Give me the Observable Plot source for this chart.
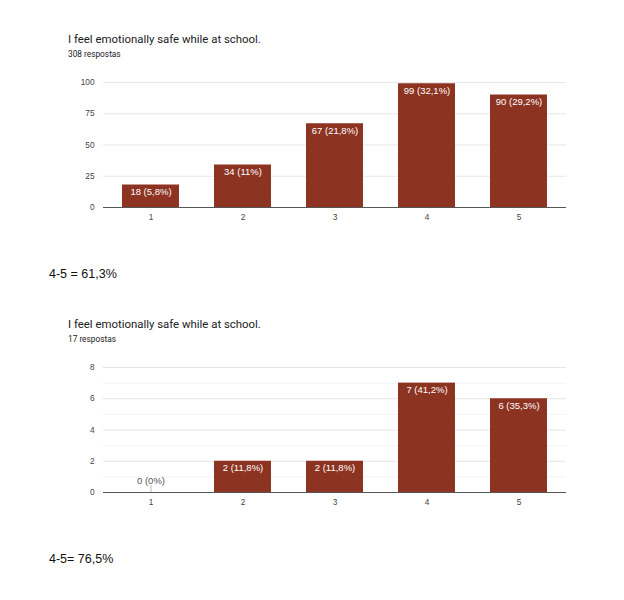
<!DOCTYPE html>
<html>
<head>
<meta charset="utf-8">
<script src="https://cdn.jsdelivr.net/npm/d3@7"></script>
<script src="https://cdn.jsdelivr.net/npm/@observablehq/plot@0.6"></script>
<style>
  html, body { margin: 0; padding: 0; background: #fff; }
  #page { position: relative; width: 624px; height: 600px; overflow: hidden; font-family: Roboto, "Liberation Sans", Arial, sans-serif; }
  .abs { position: absolute; white-space: nowrap; }
  .title { font-size: 11.4px; line-height: 13px; color: #202124; }
  .sub { font-size: 8.3px; line-height: 8px; color: #202124; }
  .note { font-family: "Liberation Sans", Arial, sans-serif; font-size: 12.5px; line-height: 13px; color: #111; }
</style>
</head>
<body>
<div id="page">
  <div class="abs title" style="left:68px;top:33px;">I feel emotionally safe while at school.</div>
  <div class="abs sub" style="left:68px;top:50px;">308 respostas</div>
  <div class="abs" id="chart1" style="left:0;top:70px;"></div>
  <div class="abs note" style="left:49px;top:268px;">4-5 = 61,3%</div>

  <div class="abs title" style="left:68px;top:318px;">I feel emotionally safe while at school.</div>
  <div class="abs sub" style="left:68px;top:335px;">17 respostas</div>
  <div class="abs" id="chart2" style="left:0;top:355px;"></div>
  <div class="abs note" style="left:49px;top:553px;">4-5= 76,5%</div>
</div>
<script>
const categories = ["1", "2", "3", "4", "5"];
const counts1 = [18, 34, 67, 99, 90];
const pct1 = ["5,8%", "11%", "21,8%", "32,1%", "29,2%"];
const counts2 = [0, 2, 2, 7, 6];
const pct2 = ["0%", "11,8%", "11,8%", "41,2%", "35,3%"];
const yTicks1 = [0, 25, 50, 75, 100];
const yTicks2 = [0, 2, 4, 6, 8];
const minorTicks2 = [1, 3, 5, 7];

const barColor = "#8d3322";

function makeChart(counts, pcts, yTicks, minorTicks, yMax) {
  const data = categories.map((c, i) => ({cat: c, v: counts[i], label: `${counts[i]} (${pcts[i]})`}));
  const nonZero = data.filter(d => d.v > 0);
  const zero = data.filter(d => d.v === 0);
  return Plot.plot({
    width: 624,
    height: 162,
    marginLeft: 103,
    marginRight: 58,
    marginTop: 12,
    marginBottom: 25,
    style: {fontFamily: "'Liberation Sans', Arial, sans-serif", fontSize: "8.3px", color: "#444", background: "#fff"},
    x: {domain: categories, paddingInner: 0.385, paddingOuter: 0.1925, label: null, tickSize: 0, tickPadding: 7},
    y: {domain: [0, yMax], ticks: yTicks, label: null, tickSize: 0, tickPadding: 9},
    marks: [
      Plot.ruleY(minorTicks, {stroke: "#f3f3f3", strokeWidth: 1}),
      Plot.ruleY(yTicks.filter(t => t > 0), {stroke: "#e6e6e6", strokeWidth: 1}),
      Plot.barY(nonZero, {x: "cat", y: "v", fill: barColor}),
      Plot.ruleX(zero, {x: "cat", y1: 0, y2: 0, insetBottom: 7, stroke: "#bbb", strokeWidth: 1}),
      Plot.ruleY([0], {stroke: "#555", strokeWidth: 1}),
      Plot.text(nonZero, {x: "cat", y: "v", text: "label", dy: 7, fill: "#fff", fontSize: 9.5}),
      Plot.text(zero, {x: "cat", y: "v", text: "label", dy: -12, fill: "#555", fontSize: 9.5})
    ]
  });
}

document.getElementById("chart1").appendChild(makeChart(counts1, pct1, yTicks1, [], 100));
document.getElementById("chart2").appendChild(makeChart(counts2, pct2, yTicks2, minorTicks2, 8));
</script>
</body>
</html>
